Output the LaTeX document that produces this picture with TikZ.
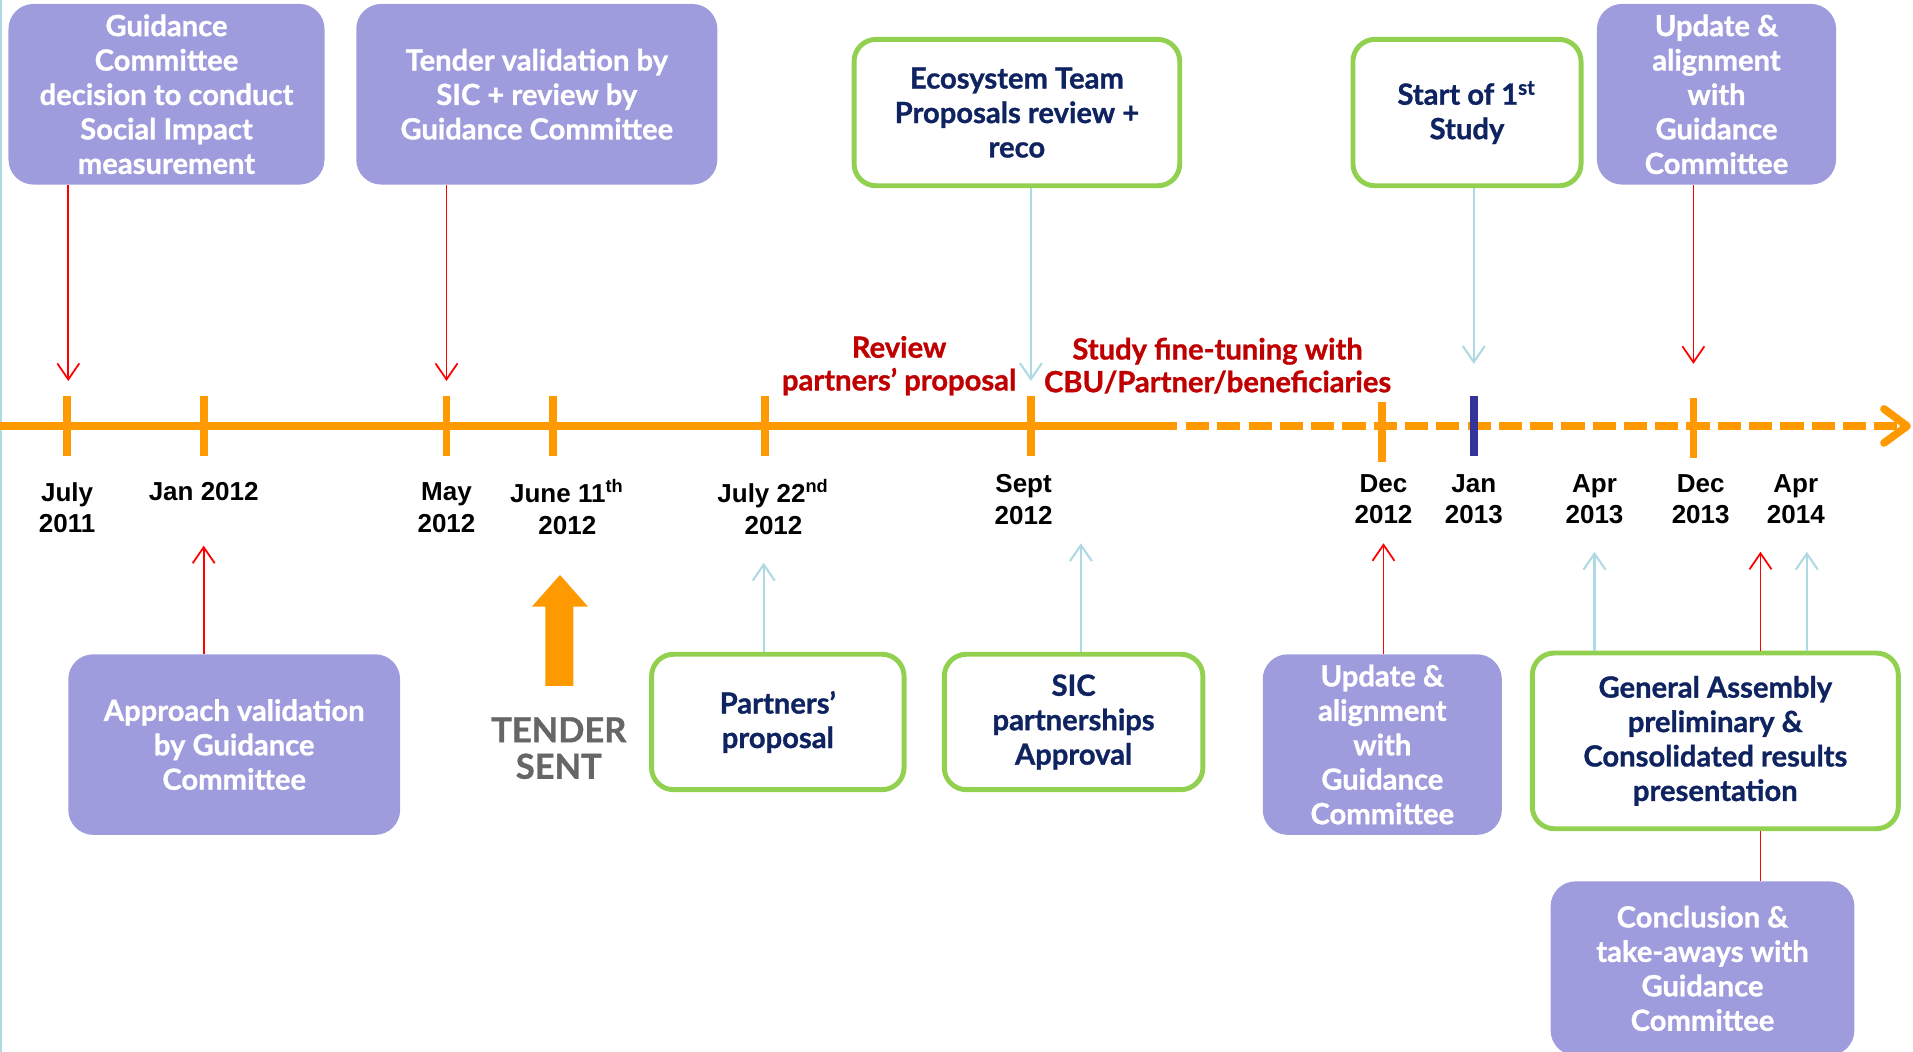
\documentclass[tikz,border=0pt]{standalone}
\usepackage{fontspec}
\setmainfont{Lato}[BoldFeatures={FakeBold=1}]
\newfontfamily\datefont{Liberation Sans}
\usetikzlibrary{arrows,arrows.meta}

\definecolor{boxpurple}{RGB}{158,156,221}
\definecolor{boxgreen}{RGB}{146,208,80}
\definecolor{navy}{RGB}{14,35,96}
\definecolor{darkred}{RGB}{192,0,0}
\definecolor{paleblue}{RGB}{175,218,228}
\definecolor{lineorange}{RGB}{255,153,0}
\definecolor{tickblue}{RGB}{51,51,153}
\definecolor{tendergray}{RGB}{102,102,102}

\tikzset{
  boxtext/.style={font=\fontsize{8.3}{9.8}\selectfont\bfseries, align=center, inner sep=0pt},
  purplebox/.style={boxtext, fill=boxpurple, rounded corners=0.25cm, text=white},
  greenbox/.style={boxtext, draw=boxgreen, line width=1.4pt, fill=white, rounded corners=0.22cm, text=navy},
  datelabel/.style={font=\datefont\fontsize{7.4}{9}\selectfont\bfseries, align=center},
  phase/.style={font=\fontsize{8.3}{9.3}\selectfont\bfseries, text=darkred, align=center},
  redarrow/.style={draw=red, line width=0.5pt, -{Straight Barb[length=1.6mm,width=2.2mm]}},
  bluearrow/.style={draw=paleblue, line width=0.6pt, -{Straight Barb[length=1.6mm,width=2.2mm]}},
  tickmark/.style={draw=lineorange, line width=2.2pt},
  timeline/.style={draw=lineorange, line width=2.2pt}
}

\begin{document}
\begin{tikzpicture}
\useasboundingbox (0,0) rectangle (19.13,10.52);
\draw[paleblue, line width=0.6pt] (0.01,0) -- (0.01,10.52);

% boxes above the time line
\node[purplebox, minimum width=3.16cm, minimum height=1.806cm] (gcdecision) at (1.665,9.577)
  {Guidance\\Committee\\decision to conduct\\Social Impact\\measurement};
\node[purplebox, minimum width=3.611cm, minimum height=1.806cm] (tenderval) at (5.368,9.577)
  {Tender validation by\\SIC + review by\\Guidance Committee};
\node[greenbox, minimum width=3.257cm, minimum height=1.464cm] (ecoteam) at (10.169,9.394)
  {Ecosystem Team\\Proposals review +\\reco};
\node[greenbox, minimum width=2.281cm, minimum height=1.464cm] (firststudy) at (14.67,9.394)
  {Start of 1\textsuperscript{st}\\Study};
\node[purplebox, minimum width=2.391cm, minimum height=1.806cm] (updtop) at (17.165,9.577)
  {Update \&\\alignment\\with\\Guidance\\Committee};

% boxes below the time line
\node[purplebox, minimum width=3.318cm, minimum height=1.806cm] (approach) at (2.342,3.074)
  {Approach validation\\by Guidance\\Committee};
\node[greenbox, minimum width=2.525cm, minimum height=1.354cm] (partners) at (7.778,3.300)
  {Partners’\\proposal};
\node[greenbox, minimum width=2.586cm, minimum height=1.354cm] (sicapp) at (10.736,3.300)
  {SIC\\partnerships\\Approval};
\node[purplebox, minimum width=2.391cm, minimum height=1.806cm] (updbot) at (13.823,3.074)
  {Update \&\\alignment\\with\\Guidance\\Committee};
\node[greenbox, minimum width=3.66cm, minimum height=1.757cm] (genassembly) at (17.153,3.111)
  {General Assembly\\preliminary \&\\Consolidated results\\presentation};
\node[purplebox, minimum width=3.038cm, minimum height=1.74cm] (conclusion) at (17.025,0.836)
  {Conclusion \&\\take-aways with\\Guidance\\Committee};

% time line
\coordinate (tlstart) at (0,6.259);
\coordinate (tlsolid) at (11.77,6.259);
\coordinate (tlend) at (19.07,6.259);
\draw[timeline] (tlstart) -- (tlsolid);
\draw[timeline, dash pattern=on 6.6pt off 2.3pt] (11.86,6.259) -- (tlend);
\draw[timeline, line cap=round, line join=round] (18.84,6.43) -- (tlend) -- (18.84,6.09);

\draw[tickmark] (0.671,5.96) -- (0.671,6.56);
\draw[tickmark] (2.037,5.96) -- (2.037,6.56);
\draw[tickmark] (4.465,5.96) -- (4.465,6.56);
\draw[tickmark] (5.527,5.96) -- (5.527,6.56);
\draw[tickmark] (7.649,5.96) -- (7.649,6.56);
\draw[tickmark] (10.309,5.96) -- (10.309,6.56);
\draw[tickmark] (13.823,5.90) -- (13.823,6.50);
\draw[tickmark, draw=tickblue] (14.738,5.96) -- (14.738,6.56);
\draw[tickmark] (16.934,5.94) -- (16.934,6.54);

% dates
\node[datelabel] (d1) at (0.671,5.441) {July\\2011};
\node[datelabel] (d2) at (2.037,5.600) {Jan 2012};
\node[datelabel] (d3) at (4.465,5.441) {May\\2012};
\node[datelabel] (d4) at (5.673,5.453) {June 11\textsuperscript{th}\\2012};
\node[datelabel] (d5) at (7.735,5.453) {July 22\textsuperscript{nd}\\2012};
\node[datelabel] (d6) at (10.236,5.527) {Sept\\2012};
\node[datelabel] (d7) at (13.835,5.527) {Dec\\2012};
\node[datelabel] (d8) at (14.738,5.527) {Jan\\2013};
\node[datelabel] (d9) at (15.945,5.527) {Apr\\2013};
\node[datelabel] (d10) at (17.007,5.527) {Dec\\2013};
\node[datelabel] (d11) at (17.958,5.527) {Apr\\2014};

% phases
\node[phase] (reviewphase) at (8.991,6.863) {Review\\partners’ proposal};
\node[phase] (tuningphase) at (12.176,6.863) {Study fine-tuning with\\CBU/Partner/beneficiaries};

% tender sent
\fill[lineorange] (5.453,3.66) -- (5.453,4.453) -- (5.319,4.453) -- (5.60,4.770)
  -- (5.880,4.453) -- (5.734,4.453) -- (5.734,3.66) -- cycle;
\node[font=\fontsize{9.8}{10.4}\selectfont\bfseries, text=tendergray, align=center] (tendersent) at (5.588,3.038) {TENDER\\SENT};

% arrows from the top boxes
\coordinate (a1) at (0.683,6.71);
\coordinate (a2) at (4.465,6.71);
\coordinate (a3) at (10.309,6.71);
\coordinate (a4) at (14.738,6.881);
\coordinate (a5) at (16.934,6.881);
\draw[redarrow] (gcdecision.south -| a1) -- (a1);
\draw[redarrow] (tenderval.south -| a2) -- (a2);
\draw[bluearrow] (ecoteam.south -| a3) -- (a3);
\draw[bluearrow] (firststudy.south -| a4) -- (a4);
\draw[redarrow] (updtop.south -| a5) -- (a5);

% arrows from the bottom boxes
\coordinate (b1) at (2.037,5.063);
\coordinate (b2) at (7.637,4.892);
\coordinate (b3) at (10.809,5.087);
\coordinate (b4) at (13.835,5.087);
\coordinate (b5) at (15.945,5.002);
\coordinate (b6) at (17.605,5.002);
\coordinate (b7) at (18.068,5.002);
\draw[redarrow] (approach.north -| b1) -- (b1);
\draw[bluearrow] (partners.north -| b2) -- (b2);
\draw[bluearrow] (sicapp.north -| b3) -- (b3);
\draw[redarrow] (updbot.north -| b4) -- (b4);
\draw[bluearrow] (genassembly.north -| b5) -- (b5);
\draw[redarrow] (genassembly.north -| b6) -- (b6);
\draw[bluearrow] (genassembly.north -| b7) -- (b7);
\draw[red, line width=0.5pt] (genassembly.south -| b6) -- (conclusion.north -| b6);
\end{tikzpicture}
\end{document}
